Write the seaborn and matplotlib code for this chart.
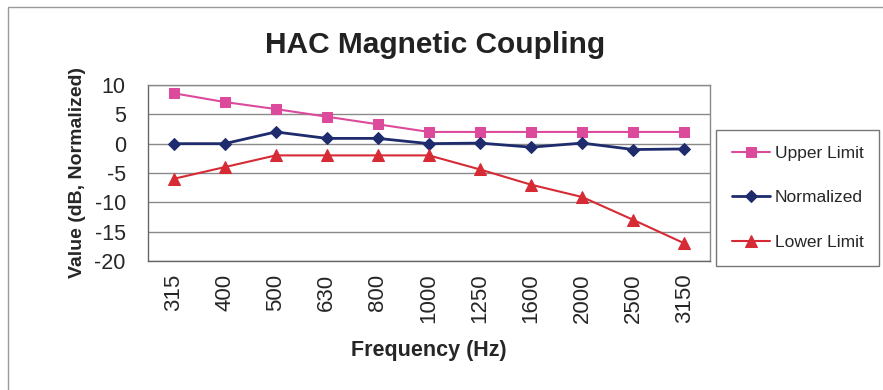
import numpy as np
import pandas as pd
import matplotlib
matplotlib.use('Agg')
import matplotlib.pyplot as plt
import seaborn as sns
from matplotlib.patches import Rectangle

# values
freqs = ['315', '400', '500', '630', '800', '1000', '1250', '1600', '2000', '2500', '3150']
upper_limit = [8.6, 7.1, 5.9, 4.6, 3.3, 2.0, 2.0, 2.0, 2.0, 2.0, 2.0]
normalized = [0.0, 0.0, 2.0, 0.9, 0.9, 0.0, 0.1, -0.6, 0.1, -1.0, -0.9]
lower_limit = [-6.0, -4.0, -2.0, -2.0, -2.0, -2.0, -4.4, -7.0, -9.1, -13.0, -17.0]

sns.set_style('white')
plt.rcParams['font.family'] = ['Liberation Sans', 'DejaVu Sans']
plt.rcParams['axes.unicode_minus'] = False

df = pd.DataFrame({'Frequency': freqs, 'Upper Limit': upper_limit,
                   'Normalized': normalized, 'Lower Limit': lower_limit})

fig = plt.figure(figsize=(8.83, 3.9), dpi=100)
ax = fig.add_axes([148/883, 1-261/390, (710-148)/883, (261-85)/390])

sns.lineplot(data=df, x='Frequency', y='Upper Limit', ax=ax, color='#DC4A9C',
             marker='s', markersize=7.5, markeredgecolor='#DC4A9C', lw=1.5,
             label='Upper Limit')
sns.lineplot(data=df, x='Frequency', y='Normalized', ax=ax, color='#1E2C6E',
             marker='D', markersize=6.5, markeredgecolor='#1E2C6E', lw=2,
             label='Normalized')
sns.lineplot(data=df, x='Frequency', y='Lower Limit', ax=ax, color='#D62A35',
             marker='^', markersize=8.5, markeredgecolor='#D62A35', lw=1.5,
             label='Lower Limit')

ax.set_ylim(-20, 10)
ax.set_yticks(np.arange(-20, 11, 5))
ax.set_xlim(-0.5, len(freqs) - 0.5)
ax.set_xticks(range(len(freqs)))
ax.set_xticklabels(freqs, rotation=90)
ax.set_xticks(np.arange(-0.5, len(freqs), 1), minor=True)
ax.tick_params(axis='x', which='major', length=0, pad=9, labelsize=16)
ax.tick_params(axis='x', which='minor', length=6, width=1, color='#666666', direction='out')
ax.tick_params(axis='y', length=6, width=1, color='#666666', direction='out', labelsize=15.5, pad=10)
ax.grid(axis='y', color='#8a8a8a', lw=1)
ax.set_axisbelow(True)
for s in ['left', 'bottom']:
    ax.spines[s].set_color('#666666')
for s in ['top', 'right']:
    ax.spines[s].set_color('#8a8a8a')
for s in ax.spines.values():
    s.set_linewidth(1)

ax.set_xlabel('Frequency (Hz)', fontsize=15.5, fontweight='bold', labelpad=12)
ax.set_ylabel('Value (dB, Normalized)', fontsize=14, fontweight='bold', labelpad=6)
fig.text(435/883, 1-45/390, 'HAC Magnetic Coupling', fontsize=21.5,
         fontweight='bold', color='#222222', ha='center', va='center')

handles, labels = ax.get_legend_handles_labels()
ax.legend_.remove()
leg = fig.legend(handles, labels, loc='upper left',
                 bbox_to_anchor=(716/883, 1-130/390), bbox_transform=fig.transFigure,
                 fontsize=12.5, frameon=True, fancybox=False, borderaxespad=0,
                 labelspacing=1.7, handlelength=2.2, handletextpad=0.3,
                 borderpad=0.9)
leg.get_frame().set_edgecolor('#555555')
leg.get_frame().set_linewidth(1)

# faint outer border of the chart
fig.patches.append(Rectangle((8/883, -0.05), 1.0, 1-7/390+0.05,
                             transform=fig.transFigure, fill=False,
                             edgecolor='#999999', lw=1))

fig.savefig('out.png', dpi=100)
